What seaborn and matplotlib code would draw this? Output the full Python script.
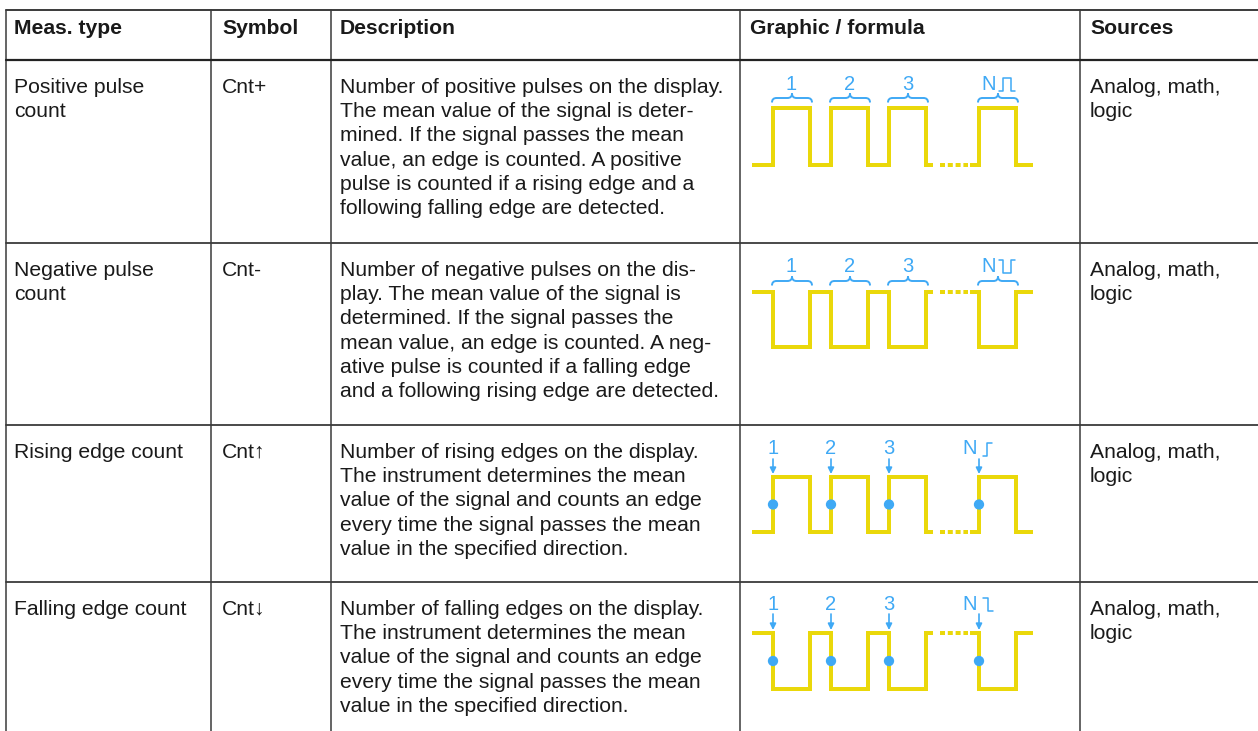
import matplotlib
matplotlib.use("Agg")
import matplotlib.pyplot as plt
from matplotlib.path import Path
from matplotlib.patches import PathPatch
import seaborn as sns

# Tabellentexte
headers = ["Meas. type", "Symbol", "Description", "Graphic / formula", "Sources"]
meas_types = [["Positive pulse", "count"], ["Negative pulse", "count"],
              ["Rising edge count"], ["Falling edge count"]]
symbols = ["Cnt+", "Cnt-", "Cnt\u2191", "Cnt\u2193"]
descriptions = [
    ["Number of positive pulses on the display.",
     "The mean value of the signal is deter-",
     "mined. If the signal passes the mean",
     "value, an edge is counted. A positive",
     "pulse is counted if a rising edge and a",
     "following falling edge are detected."],
    ["Number of negative pulses on the dis-",
     "play. The mean value of the signal is",
     "determined. If the signal passes the",
     "mean value, an edge is counted. A neg-",
     "ative pulse is counted if a falling edge",
     "and a following rising edge are detected."],
    ["Number of rising edges on the display.",
     "The instrument determines the mean",
     "value of the signal and counts an edge",
     "every time the signal passes the mean",
     "value in the specified direction."],
    ["Number of falling edges on the display.",
     "The instrument determines the mean",
     "value of the signal and counts an edge",
     "every time the signal passes the mean",
     "value in the specified direction."],
]
sources = [["Analog, math,", "logic"]] * 4

# Grafik: Zaehlmarken und Art der Pulse
pulse_labels = ["1", "2", "3", "N"]
polarity = [1, -1, 1, -1]            # 1 = Puls geht nach oben
count_mode = ["pulse", "pulse", "edge", "edge"]

# Layout (Pixel)
W, H = 1258, 731
col_x = [6, 211, 331, 740, 1080]
text_x = [14, 222, 340, 750, 1090]
table_top, header_bottom = 10, 60
row_tops = [60, 243, 425, 582]
first_base, line_h = 33, 24.2
fs = 15.2

# Wellenform-Geometrie
x_start, x_end = 752, 1033
pulse_x = [773, 831, 889, 979]
pulse_w = 37
gap_from, gap_to = 933, 970
wave_high = [108, 292, 477, 633]
wave_low = [165, 347, 532, 689]
label_y = [84, 267, 449, 604]

yellow = "#ead80a"
blue = "#3fa9f5"
txt = "#1a1a1a"
lw_wave = 4 * 72 / 100

sns.set_theme(style="white")
plt.rcParams["font.family"] = ["Liberation Sans", "DejaVu Sans"]

fig = plt.figure(figsize=(W / 100, H / 100), dpi=100)
ax = fig.add_axes([0, 0, 1, 1])
ax.set_xlim(0, W)
ax.set_ylim(H, 0)
ax.axis("off")

# Gitterlinien
for x in col_x:
    ax.plot([x, x], [table_top, H], color="#3a3a3a", lw=1.1)
ax.plot([col_x[0], W], [table_top, table_top], color="#3a3a3a", lw=1.4)
ax.plot([col_x[0], W], [header_bottom, header_bottom], color="#222222", lw=1.6)
for y in row_tops[1:]:
    ax.plot([col_x[0], W], [y, y], color="#3a3a3a", lw=1.3)

# Kopfzeile
for h, x in zip(headers, text_x):
    ax.text(x, 34, h, fontsize=fs, fontweight="bold", color=txt, va="baseline")

# Textzellen
for r, top in enumerate(row_tops):
    cells = [meas_types[r], [symbols[r]], descriptions[r], sources[r]]
    for cell, x in zip(cells, [text_x[0], text_x[1], text_x[2], text_x[4]]):
        for i, line in enumerate(cell):
            ax.text(x, top + first_base + i * line_h, line, fontsize=fs,
                    color=txt, va="baseline")


def brace(x0, x1, y):
    xm = (x0 + x1) / 2
    d = 4.5
    verts = [(x0, y + d), (x0, y), (x0 + d, y), (xm - d, y), (xm, y), (xm, y - d),
             (xm, y), (xm + d, y), (x1 - d, y), (x1, y), (x1, y + d)]
    codes = [Path.MOVETO, Path.CURVE3, Path.CURVE3, Path.LINETO, Path.CURVE3, Path.CURVE3,
             Path.CURVE3, Path.CURVE3, Path.LINETO, Path.CURVE3, Path.CURVE3]
    ax.add_patch(PathPatch(Path(verts, codes), fill=False, edgecolor=blue, lw=1.4))


def wave_segment(points):
    xs = [p[0] for p in points]
    ys = [p[1] for p in points]
    sns.lineplot(x=xs, y=ys, sort=False, estimator=None, color=yellow, lw=lw_wave,
                 ax=ax, solid_joinstyle="miter", solid_capstyle="butt")


for r in range(4):
    hi, lo = wave_high[r], wave_low[r]
    base, peak = (lo, hi) if polarity[r] > 0 else (hi, lo)
    mean = (hi + lo) / 2

    seg1 = [(x_start, base)]
    for p in pulse_x[:3]:
        seg1 += [(p, base), (p, peak), (p + pulse_w, peak), (p + pulse_w, base)]
    seg1 += [(gap_from, base)]
    p = pulse_x[3]
    seg2 = [(gap_to, base), (p, base), (p, peak), (p + pulse_w, peak),
            (p + pulse_w, base), (x_end, base)]
    wave_segment(seg1)
    wave_segment(seg2)
    ax.plot([940, 968], [base, base], color=yellow, lw=lw_wave,
            dashes=(1.25, 0.7), solid_capstyle="butt", dash_capstyle="butt")

    if count_mode[r] == "pulse":
        for lab, p in zip(pulse_labels, pulse_x):
            brace(p - 1, p + pulse_w + 2, label_y[r] + 14)
            cx = p + pulse_w / 2
            if lab == "N":
                ax.text(cx - 2, label_y[r], lab, fontsize=14.5, color=blue,
                        ha="right", va="center")
                sx = cx + 1
                if polarity[r] > 0:
                    yb, yt = label_y[r] + 7, label_y[r] - 6
                else:
                    yb, yt = label_y[r] - 7, label_y[r] + 6
                ax.plot([sx, sx + 4, sx + 4, sx + 12, sx + 12, sx + 16],
                        [yb, yb, yt, yt, yb, yb], color=blue, lw=1.1)
            else:
                ax.text(cx, label_y[r], lab, fontsize=14.5, color=blue,
                        ha="center", va="center")
    else:
        arrow_top = label_y[r] + 10
        for lab, p in zip(pulse_labels, pulse_x):
            ax.annotate("", xy=(p, hi - 3), xytext=(p, arrow_top),
                        arrowprops=dict(arrowstyle="-|>", color=blue, lw=1.2,
                                        mutation_scale=9, shrinkA=0, shrinkB=0))
            if lab == "N":
                ax.text(p - 2, label_y[r], lab, fontsize=14.5, color=blue,
                        ha="right", va="center")
                sx = p + 4
                if polarity[r] > 0:
                    ax.plot([sx, sx + 4, sx + 4, sx + 9],
                            [label_y[r] + 7, label_y[r] + 7, label_y[r] - 6, label_y[r] - 6],
                            color=blue, lw=1.1)
                else:
                    ax.plot([sx, sx + 5, sx + 5, sx + 10],
                            [label_y[r] - 6, label_y[r] - 6, label_y[r] + 7, label_y[r] + 7],
                            color=blue, lw=1.1)
            else:
                ax.text(p, label_y[r], lab, fontsize=14.5, color=blue,
                        ha="center", va="center")
        sns.scatterplot(x=pulse_x, y=[mean] * 4, color=blue, s=55, edgecolor="none",
                        ax=ax, zorder=5)

fig.savefig("out.png", dpi=100)
